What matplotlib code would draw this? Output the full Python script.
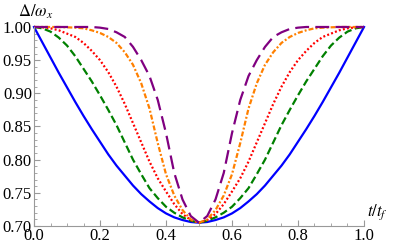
import matplotlib
matplotlib.use('Agg')
import matplotlib.pyplot as plt
from matplotlib.ticker import MultipleLocator

plt.rcParams['font.family'] = 'Liberation Serif'
plt.rcParams['mathtext.fontset'] = 'stix'
plt.rcParams['lines.scale_dashes'] = False

# t / t_f sample points (every 0.025)
t = [0.000, 0.025, 0.050, 0.075, 0.100, 0.125, 0.150, 0.175, 0.200, 0.225,
     0.250, 0.275, 0.300, 0.325, 0.350, 0.375, 0.400, 0.425, 0.450, 0.475,
     0.500, 0.525, 0.550, 0.575, 0.600, 0.625, 0.650, 0.675, 0.700, 0.725,
     0.750, 0.775, 0.800, 0.825, 0.850, 0.875, 0.900, 0.925, 0.950, 0.975,
     1.000]

blue = [1.000, 0.977, 0.954, 0.931, 0.909, 0.887, 0.866, 0.846, 0.827, 0.808,
        0.791, 0.776, 0.761, 0.748, 0.737, 0.727, 0.719, 0.713, 0.709, 0.706,
        0.705, 0.706, 0.709, 0.713, 0.719, 0.727, 0.737, 0.748, 0.761, 0.776,
        0.791, 0.808, 0.827, 0.846, 0.866, 0.887, 0.909, 0.931, 0.954, 0.977,
        1.000]

green = [1.000, 0.998, 0.993, 0.984, 0.972, 0.956, 0.937, 0.918, 0.897, 0.875,
         0.852, 0.826, 0.800, 0.778, 0.757, 0.742, 0.729, 0.720, 0.713, 0.708,
         0.705, 0.708, 0.713, 0.720, 0.729, 0.742, 0.757, 0.778, 0.800, 0.826,
         0.852, 0.875, 0.897, 0.918, 0.937, 0.956, 0.972, 0.984, 0.993, 0.998,
         1.000]

red = [1.000, 0.9995, 0.998, 0.995, 0.990, 0.985, 0.976, 0.964, 0.950, 0.932,
       0.910, 0.884, 0.855, 0.826, 0.797, 0.772, 0.752, 0.733, 0.718, 0.709,
       0.705, 0.709, 0.718, 0.733, 0.752, 0.772, 0.797, 0.826, 0.855, 0.884,
       0.910, 0.932, 0.950, 0.964, 0.976, 0.985, 0.990, 0.995, 0.998, 0.9995,
       1.000]

orange = [1.000, 1.000, 1.000, 1.000, 0.9995, 0.999, 0.998, 0.995, 0.991, 0.985,
          0.976, 0.962, 0.943, 0.915, 0.877, 0.825, 0.778, 0.746, 0.724, 0.710,
          0.705, 0.710, 0.724, 0.746, 0.778, 0.825, 0.877, 0.915, 0.943, 0.962,
          0.976, 0.985, 0.991, 0.995, 0.998, 0.999, 0.9995, 1.000, 1.000, 1.000,
          1.000]

purple = [1.000, 1.000, 1.000, 1.000, 1.000, 1.000, 1.000, 1.000, 0.999, 0.997,
          0.992, 0.985, 0.970, 0.950, 0.926, 0.890, 0.840, 0.780, 0.740, 0.715,
          0.705, 0.715, 0.740, 0.780, 0.840, 0.890, 0.926, 0.950, 0.970, 0.985,
          0.992, 0.997, 0.999, 1.000, 1.000, 1.000, 1.000, 1.000, 1.000, 1.000,
          1.000]

fig = plt.figure(figsize=(3.95, 2.49), dpi=100)
ax = fig.add_axes([0.0861, 0.0924, 0.8354, 0.7992])

lw = 1.6
ax.plot(t, blue, color='#0000ff', lw=lw, clip_on=False)
ax.plot(t, green, color='#008000', lw=lw, dashes=(5.5, 2.5), clip_on=False)
ax.plot(t, red, color='#ff0000', lw=lw, dashes=(1.4, 1.6), clip_on=False)
ax.plot(t, orange, color='#ff8000', lw=lw, dashes=(3.6, 1.5, 1.4, 1.5), clip_on=False)
ax.plot(t, purple, color='#800080', lw=lw, dashes=(10, 4.5), clip_on=False)

ax.set_xlim(0, 1)
ax.set_ylim(0.70, 1.00)

for s in ['top', 'right']:
    ax.spines[s].set_visible(False)
for s in ['left', 'bottom']:
    ax.spines[s].set_color('#999999')
    ax.spines[s].set_linewidth(0.8)

ax.xaxis.set_major_locator(MultipleLocator(0.2))
ax.xaxis.set_minor_locator(MultipleLocator(0.05))
ax.yaxis.set_major_locator(MultipleLocator(0.05))
ax.yaxis.set_minor_locator(MultipleLocator(0.01))
ax.xaxis.set_major_formatter(plt.FormatStrFormatter('%.1f'))
ax.yaxis.set_major_formatter(plt.FormatStrFormatter('%.2f'))

ax.tick_params(which='both', direction='in', color='#999999', labelsize=12,
               labelcolor='black')
ax.tick_params(which='major', length=4, width=0.8, pad=1.5)
ax.tick_params(which='minor', length=2.2, width=0.6)

ax.annotate(r'$\Delta/\omega_x$', xy=(0, 1), xycoords='axes fraction',
            xytext=(1, 11), textcoords='offset points', ha='center', va='center',
            fontsize=12)
ax.annotate(r'$t/t_f$', xy=(1, 0), xycoords='axes fraction',
            xytext=(2, 10), textcoords='offset points', ha='left', va='center',
            fontsize=12)

fig.savefig('out.png', dpi=100)
